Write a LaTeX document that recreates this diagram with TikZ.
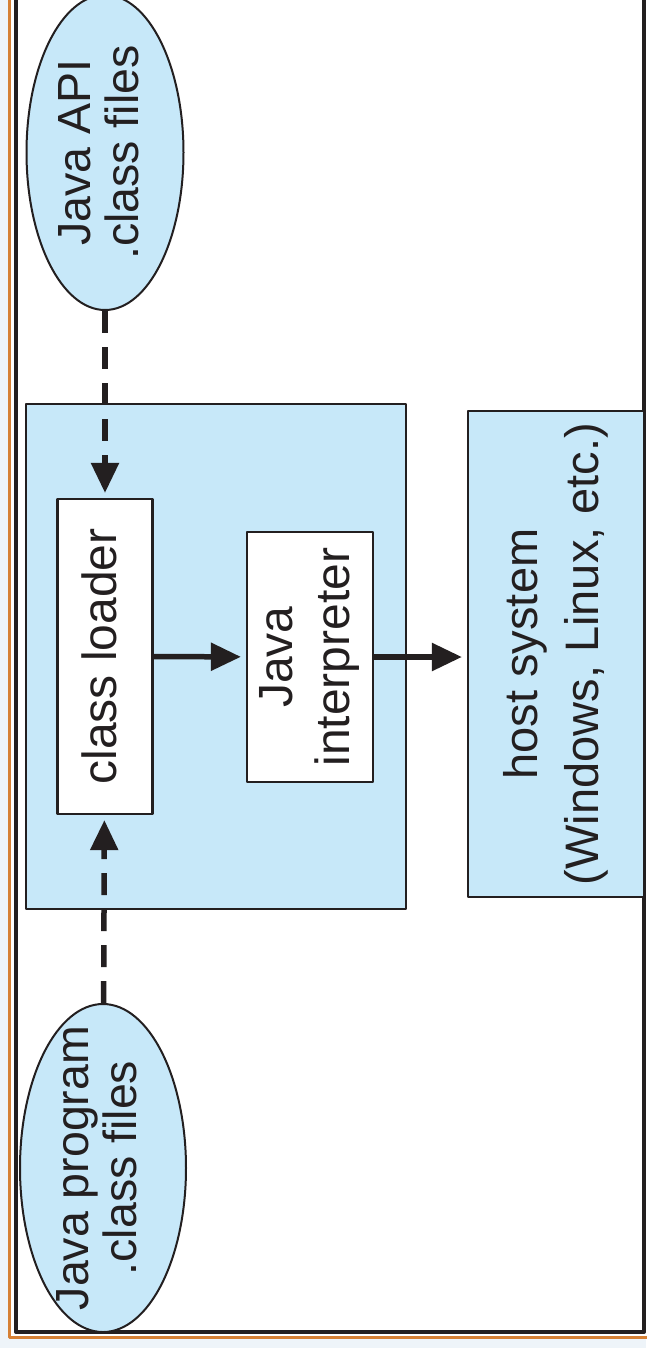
\documentclass[tikz,border=0pt]{standalone}
\usepackage{fontspec}
\setmainfont{Liberation Sans}
\usetikzlibrary{arrows.meta,shapes.geometric,calc}

\definecolor{jvmblue}{RGB}{199,232,249}
\definecolor{frameorange}{RGB}{214,128,52}
\definecolor{pagebg}{RGB}{238,244,249}
\definecolor{ink}{RGB}{35,31,32}

\tikzset{
  box/.style={draw=ink, line width=2.2pt, inner sep=0pt, align=center},
  blob/.style={ellipse, draw=ink, line width=2pt, fill=jvmblue, inner sep=0pt},
  flow/.style={draw=ink, line width=5.5pt, -{Triangle[length=30pt,width=27pt]}, shorten >=5pt},
  load/.style={flow, dash pattern=on 22pt off 14pt}
}
% rotated text: [line spacing]{font size}{lines}
\newcommand{\vtext}[3][57pt]{\rotatebox{90}{\fontsize{#2}{#1}\selectfont\color{ink}%
  \begin{tabular}{@{}c@{}}#3\end{tabular}}}

\begin{document}
\begin{tikzpicture}[x=1pt, y=-1pt, line join=round]
\useasboundingbox (0,0) rectangle (646,1348);
% page and frame
\fill[pagebg] (0,0) rectangle (646,1348);
\draw[frameorange, line width=3pt, fill=white] (9,-20) rectangle (648,1337.5);
\draw[ink, line width=4pt] (16,-20) rectangle (644,1332);

% class files
\node[blob, minimum width=157pt, minimum height=315pt,
  label={[inner sep=0pt]center:\vtext[47pt]{46.5}{Java API\\.class files}}] (api) at (105,152.5) {};
\node[blob, minimum width=166pt, minimum height=328pt,
  label={[inner sep=0pt]center:\vtext[47pt]{46.5}{Java program\\.class files}}] (prog) at (103,1168) {};

% virtual machine
\node[box, fill=jvmblue, minimum width=380pt, minimum height=505pt] (jvm) at (216,656.5) {};
\node[box, fill=white, minimum width=95pt, minimum height=315pt] (loader) at (105,656.5) {\vtext{48}{class loader}};
\node[box, fill=white, minimum width=126pt, minimum height=250pt] (interp) at (310,657) {\vtext{48}{Java\\interpreter}};
\node[box, fill=jvmblue, minimum width=176pt, minimum height=486pt] (host) at (556,654) {\vtext[61pt]{47}{host system\\(Windows, Linux, etc.)}};

\draw[load] (api) -- (loader);
\draw[load] (prog) -- (loader);
\draw[flow] (loader) -- (interp);
\draw[flow] (interp.east) -- (interp.east -| host.west);
\end{tikzpicture}
\end{document}
